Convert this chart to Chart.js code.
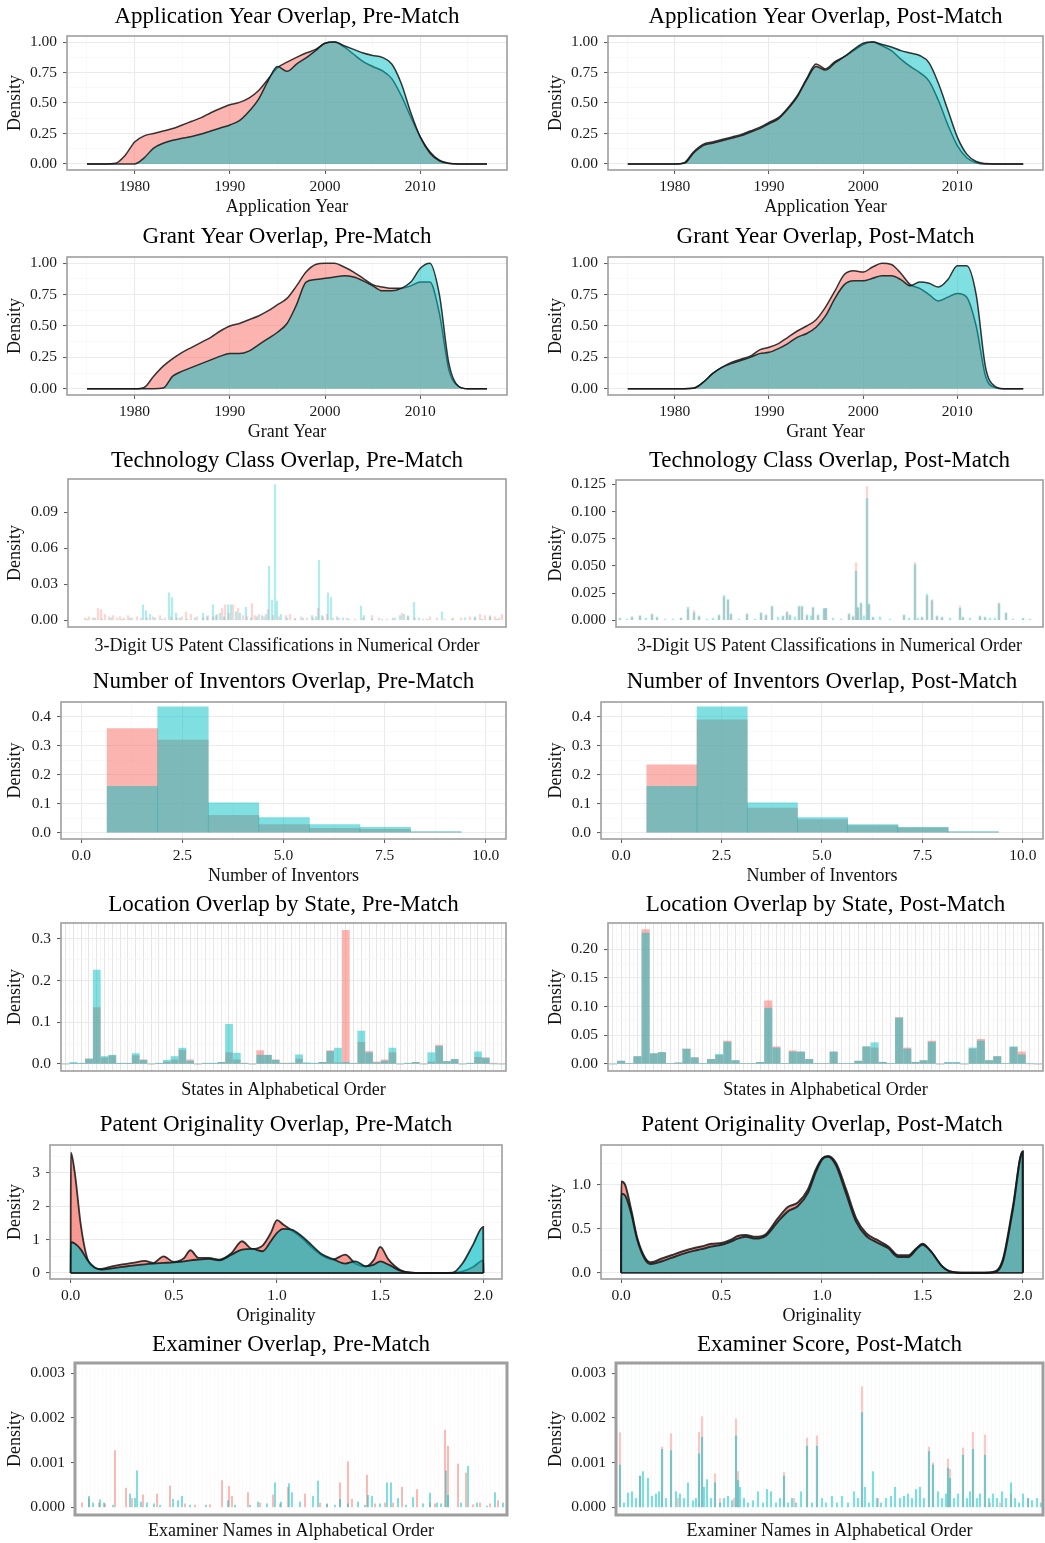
<!DOCTYPE html>
<html>
<head>
<meta charset="utf-8">
<script src="https://cdn.jsdelivr.net/npm/chart.js@4.4.0/dist/chart.umd.min.js"></script>
<style>
  html, body { margin: 0; padding: 0; background: #fff; }
  body { width: 1045px; height: 1543px; position: relative; overflow: hidden; }
  .cell { position: absolute; }
</style>
</head>
<body>
<script>
// ---- year densities (scaled so the peak is 1) ----
var years = [1975, 1977, 1978, 1979, 1980, 1981, 1982, 1983, 1984, 1985, 1986, 1987, 1988, 1989, 1990,
  1991, 1992, 1993, 1994, 1995, 1996, 1997, 1998, 1999, 2000, 2001, 2002, 2003, 2004, 2005,
  2006, 2007, 2008, 2009, 2010, 2011, 2012, 2013, 2014, 2015, 2017];

var appPreRed = [0, 0, 0.005, 0.07, 0.18, 0.23, 0.25, 0.27, 0.29, 0.32, 0.35, 0.38, 0.42, 0.455, 0.485,
  0.505, 0.54, 0.6, 0.695, 0.79, 0.835, 0.875, 0.91, 0.94, 0.99, 1.0, 0.96, 0.9, 0.84, 0.8,
  0.765, 0.7, 0.56, 0.385, 0.22, 0.1, 0.03, 0.006, 0, 0, 0];
var appPreCyan = [0, 0, 0, 0, 0, 0.05, 0.13, 0.17, 0.195, 0.21, 0.225, 0.245, 0.27, 0.295, 0.32,
  0.355, 0.43, 0.53, 0.68, 0.8, 0.76, 0.82, 0.87, 0.93, 0.99, 1.0, 0.97, 0.94, 0.91, 0.89,
  0.875, 0.82, 0.66, 0.42, 0.22, 0.09, 0.025, 0.004, 0, 0, 0];
var appPostRed = [0, 0, 0, 0, 0, 0.01, 0.1, 0.16, 0.18, 0.2, 0.22, 0.24, 0.27, 0.3, 0.34,
  0.38, 0.46, 0.56, 0.7, 0.82, 0.78, 0.84, 0.88, 0.93, 0.98, 1.0, 0.97, 0.93, 0.86, 0.8,
  0.75, 0.68, 0.52, 0.32, 0.15, 0.05, 0.01, 0, 0, 0, 0];
var appPostCyan = [0, 0, 0, 0, 0, 0.005, 0.09, 0.15, 0.17, 0.19, 0.21, 0.23, 0.26, 0.29, 0.33,
  0.37, 0.45, 0.55, 0.69, 0.8, 0.77, 0.83, 0.88, 0.94, 0.99, 1.0, 0.98, 0.96, 0.93, 0.91,
  0.89, 0.83, 0.66, 0.44, 0.22, 0.08, 0.02, 0.003, 0, 0, 0];
var grantPreRed = [0, 0, 0, 0, 0, 0.01, 0.1, 0.18, 0.24, 0.29, 0.33, 0.37, 0.41, 0.46, 0.5,
  0.52, 0.55, 0.58, 0.62, 0.67, 0.72, 0.82, 0.93, 0.99, 1.0, 1.0, 0.97, 0.93, 0.88, 0.83,
  0.81, 0.8, 0.8, 0.82, 0.85, 0.85, 0.6, 0.15, 0.02, 0, 0];
var grantPreCyan = [0, 0, 0, 0, 0, 0, 0, 0.005, 0.1, 0.14, 0.17, 0.2, 0.23, 0.26, 0.28,
  0.28, 0.3, 0.35, 0.4, 0.45, 0.52, 0.67, 0.85, 0.87, 0.88, 0.89, 0.9, 0.89, 0.86, 0.82,
  0.78, 0.78, 0.8, 0.85, 0.96, 1.0, 0.75, 0.2, 0.02, 0, 0];
var grantPostRed = [0, 0, 0, 0, 0, 0, 0.005, 0.05, 0.12, 0.17, 0.21, 0.235, 0.26, 0.31, 0.33,
  0.36, 0.41, 0.46, 0.5, 0.55, 0.65, 0.78, 0.91, 0.94, 0.93, 0.97, 1.0, 0.99, 0.92, 0.83,
  0.8, 0.75, 0.7, 0.73, 0.76, 0.73, 0.5, 0.1, 0.01, 0, 0];
var grantPostCyan = [0, 0, 0, 0, 0, 0, 0.003, 0.05, 0.12, 0.17, 0.2, 0.225, 0.25, 0.28, 0.29,
  0.32, 0.36, 0.41, 0.44, 0.49, 0.58, 0.72, 0.83, 0.86, 0.86, 0.88, 0.9, 0.9, 0.87, 0.82,
  0.85, 0.84, 0.81, 0.87, 0.98, 0.98, 0.75, 0.17, 0.02, 0, 0];

// ---- technology classes: [class position, density] ----
var techPreRed = [[18, 0.002], [22, 0.003], [26, 0.002], [31, 0.01], [34, 0.009], [38, 0.005], [42, 0.003],
  [46, 0.004], [50, 0.002], [53, 0.003], [57, 0.002], [61, 0.004], [65, 0.002], [70, 0.003], [74, 0.002],
  [80, 0.002], [86, 0.003], [93, 0.004], [98, 0.002], [104, 0.003], [110, 0.002], [115, 0.003], [119, 0.007],
  [124, 0.005], [130, 0.003], [136, 0.002], [141, 0.004], [146, 0.003], [150, 0.005], [155, 0.01], [158, 0.013],
  [162, 0.006], [166, 0.013], [171, 0.01], [176, 0.004], [180, 0.003], [185, 0.014], [188, 0.004], [192, 0.005],
  [197, 0.003], [201, 0.009], [206, 0.004], [212, 0.003], [219, 0.004], [223, 0.005], [228, 0.002], [234, 0.003],
  [240, 0.002], [246, 0.002], [251, 0.01], [256, 0.003], [260, 0.005], [266, 0.002], [272, 0.002], [280, 0.002],
  [288, 0.001], [296, 0.002], [305, 0.004], [312, 0.002], [320, 0.001], [328, 0.002], [335, 0.006], [341, 0.004],
  [348, 0.002], [356, 0.001], [363, 0.003], [370, 0.002], [378, 0.001], [386, 0.002], [394, 0.002], [403, 0.003],
  [408, 0.002], [413, 0.005], [418, 0.004], [423, 0.004], [428, 0.003], [432, 0.002], [435, 0.005]];
var techPreCyan = [[20, 0.001], [28, 0.002], [35, 0.001], [44, 0.002], [55, 0.001], [63, 0.002], [76, 0.013],
  [79, 0.008], [83, 0.005], [88, 0.002], [95, 0.001], [102, 0.023], [105, 0.019], [109, 0.006], [113, 0.002],
  [120, 0.001], [128, 0.002], [136, 0.006], [140, 0.003], [146, 0.013], [149, 0.004], [153, 0.006], [157, 0.003],
  [161, 0.013], [164, 0.013], [169, 0.007], [173, 0.006], [179, 0.011], [184, 0.002], [190, 0.003], [195, 0.004],
  [199, 0.005], [202, 0.045], [205, 0.017], [208, 0.113], [210, 0.016], [214, 0.005], [220, 0.002], [228, 0.001],
  [236, 0.002], [245, 0.004], [249, 0.003], [252, 0.05], [255, 0.004], [261, 0.023], [264, 0.019], [270, 0.003],
  [276, 0.002], [282, 0.001], [294, 0.012], [297, 0.004], [305, 0.001], [315, 0.001], [326, 0.002], [333, 0.004],
  [337, 0.005], [341, 0.003], [347, 0.015], [352, 0.002], [360, 0.001], [375, 0.007], [385, 0.001], [398, 0.002],
  [408, 0.003], [415, 0.001], [423, 0.003], [430, 0.001]];
var techPostRed = [[5, 0.001], [17, 0.003], [25, 0.004], [37, 0.006], [42, 0.002], [66, 0.002], [73, 0.01],
  [79, 0.009], [84, 0.003], [104, 0.004], [109, 0.021], [113, 0.018], [116, 0.005], [132, 0.005], [146, 0.006],
  [151, 0.004], [157, 0.012], [168, 0.003], [172, 0.008], [175, 0.004], [184, 0.012], [187, 0.012], [192, 0.004],
  [198, 0.011], [203, 0.004], [209, 0.01], [211, 0.011], [234, 0.005], [238, 0.004], [241, 0.053], [243, 0.011],
  [246, 0.015], [252, 0.123], [254, 0.014], [258, 0.002], [289, 0.004], [300, 0.053], [307, 0.002], [312, 0.022],
  [317, 0.019], [322, 0.003], [327, 0.002], [345, 0.013], [348, 0.002], [365, 0.003], [370, 0.002], [384, 0.016],
  [391, 0.006], [408, 0.001]];
var techPostCyan = [[5, 0.002], [12, 0.001], [17, 0.003], [25, 0.004], [31, 0.002], [37, 0.005], [42, 0.003],
  [50, 0.001], [58, 0.001], [66, 0.002], [73, 0.012], [79, 0.007], [84, 0.004], [92, 0.001], [98, 0.002],
  [104, 0.005], [109, 0.023], [113, 0.019], [116, 0.006], [124, 0.001], [132, 0.006], [140, 0.001], [146, 0.007],
  [151, 0.005], [157, 0.013], [163, 0.003], [168, 0.004], [172, 0.007], [175, 0.005], [180, 0.003], [184, 0.013],
  [187, 0.013], [192, 0.005], [196, 0.004], [198, 0.012], [203, 0.005], [209, 0.011], [211, 0.011], [218, 0.002],
  [226, 0.001], [234, 0.006], [238, 0.003], [241, 0.045], [243, 0.012], [246, 0.016], [249, 0.004], [252, 0.112],
  [254, 0.015], [258, 0.003], [265, 0.003], [275, 0.001], [289, 0.005], [294, 0.002], [300, 0.051], [303, 0.002],
  [307, 0.003], [312, 0.024], [317, 0.018], [322, 0.004], [327, 0.003], [335, 0.002], [345, 0.011], [348, 0.003],
  [355, 0.002], [365, 0.004], [370, 0.003], [375, 0.002], [380, 0.002], [384, 0.015], [391, 0.007], [398, 0.001],
  [408, 0.002], [415, 0.001]];

// ---- number of inventors histogram ----
var invBins = [1.265, 2.515, 3.765, 5.015, 6.265, 7.515, 8.765];
var invPreRed = [0.36, 0.32, 0.06, 0.028, 0.015, 0.012, 0.002];
var invPreCyan = [0.16, 0.435, 0.103, 0.052, 0.028, 0.019, 0.004];
var invPostRed = [0.235, 0.39, 0.085, 0.045, 0.025, 0.017, 0.002];
var invPostCyan = [0.16, 0.435, 0.103, 0.052, 0.028, 0.019, 0.004];

// ---- state shares, one value per state slot in alphabetical order ----
var locPreRed = [0, 0.001, 0.001, 0.012, 0.135, 0.015, 0.02, 0.001, 0.001, 0.02, 0.01, 0, 0.001, 0.005, 0.01,
  0.033, 0.01, 0, 0.001, 0.001, 0.004, 0.027, 0.01, 0.001, 0, 0.032, 0.021, 0.01, 0.002, 0.002, 0.012,
  0.001, 0.001, 0.004, 0.032, 0.003, 0.32, 0.002, 0.052, 0.03, 0.005, 0.01, 0.027, 0, 0.001, 0.004, 0,
  0.005, 0.045, 0.006, 0.011, 0, 0.001, 0.016, 0.015, 0.002, 0];
var locPreCyan = [0, 0.004, 0.002, 0.012, 0.225, 0.018, 0.021, 0.002, 0.002, 0.025, 0.009, 0, 0.002, 0.009, 0.018,
  0.038, 0.007, 0, 0.002, 0.002, 0.004, 0.095, 0.026, 0.002, 0, 0.021, 0.021, 0.009, 0.001, 0.002, 0.022,
  0.003, 0.002, 0.004, 0.03, 0.038, 0.004, 0.001, 0.079, 0.027, 0.003, 0.007, 0.038, 0, 0.002, 0.004, 0,
  0.027, 0.042, 0.006, 0.011, 0, 0.002, 0.029, 0.014, 0, 0];
var locPostRed = [0, 0.005, 0.001, 0.013, 0.234, 0.018, 0.02, 0.001, 0.002, 0.026, 0.011, 0.001, 0.008, 0.015,
  0.04, 0.006, 0.001, 0.001, 0.003, 0.11, 0.03, 0.001, 0.023, 0.021, 0.008, 0.001, 0.001, 0.021, 0.001,
  0.001, 0.005, 0.03, 0.028, 0.003, 0.001, 0.081, 0.028, 0.003, 0.006, 0.04, 0, 0.002, 0.002, 0, 0.026,
  0.043, 0.006, 0.013, 0.001, 0.029, 0.021, 0, 0];
var locPostCyan = [0, 0.005, 0.001, 0.013, 0.228, 0.018, 0.02, 0.001, 0.002, 0.026, 0.011, 0.001, 0.008, 0.017,
  0.038, 0.006, 0.001, 0.001, 0.003, 0.097, 0.028, 0.001, 0.021, 0.021, 0.008, 0.001, 0.001, 0.021, 0.001,
  0.001, 0.005, 0.03, 0.037, 0.003, 0.001, 0.08, 0.026, 0.003, 0.006, 0.038, 0, 0.003, 0.003, 0, 0.028,
  0.04, 0.006, 0.013, 0.001, 0.03, 0.016, 0.001, 0];

// ---- originality densities ----
var origX = [0, 0.001, 0.02, 0.05, 0.08, 0.12, 0.15, 0.2, 0.25, 0.3, 0.36, 0.4, 0.45, 0.5, 0.55, 0.58, 0.62,
  0.67, 0.72, 0.78, 0.83, 0.88, 0.93, 0.97, 1.0, 1.03, 1.07, 1.12, 1.17, 1.22, 1.27, 1.33, 1.38, 1.43,
  1.47, 1.5, 1.54, 1.6, 1.65, 1.75, 1.85, 1.9, 1.95, 1.999, 2.0];
var origPreRed = [0, 3.6, 3.0, 1.4, 0.45, 0.15, 0.12, 0.2, 0.26, 0.3, 0.36, 0.3, 0.5, 0.33, 0.45, 0.68, 0.45,
  0.45, 0.4, 0.6, 0.95, 0.72, 0.82, 1.2, 1.58, 1.45, 1.28, 1.05, 0.75, 0.52, 0.4, 0.55, 0.28, 0.2,
  0.4, 0.78, 0.4, 0.08, 0.01, 0, 0.005, 0.05, 0.18, 0.38, 0];
var origPreCyan = [0, 0.92, 0.88, 0.7, 0.4, 0.15, 0.1, 0.14, 0.18, 0.22, 0.26, 0.28, 0.3, 0.32, 0.35, 0.38, 0.4,
  0.42, 0.38, 0.55, 0.7, 0.72, 0.65, 0.95, 1.2, 1.32, 1.3, 1.1, 0.82, 0.55, 0.42, 0.28, 0.35, 0.2,
  0.25, 0.35, 0.25, 0.06, 0.01, 0, 0.01, 0.3, 0.85, 1.38, 0];
var origPostRed = [0, 1.04, 1.0, 0.72, 0.4, 0.17, 0.12, 0.16, 0.2, 0.24, 0.28, 0.3, 0.33, 0.34, 0.38, 0.42, 0.43,
  0.41, 0.44, 0.62, 0.75, 0.8, 0.95, 1.18, 1.3, 1.33, 1.25, 0.95, 0.62, 0.45, 0.38, 0.3, 0.2, 0.2,
  0.28, 0.33, 0.25, 0.07, 0.01, 0, 0.01, 0.15, 0.75, 1.38, 0];
var origPostCyan = [0, 0.9, 0.88, 0.68, 0.38, 0.15, 0.1, 0.13, 0.17, 0.21, 0.25, 0.27, 0.3, 0.32, 0.36, 0.39, 0.41,
  0.39, 0.42, 0.58, 0.7, 0.76, 0.91, 1.15, 1.29, 1.32, 1.22, 0.9, 0.58, 0.42, 0.35, 0.28, 0.18, 0.18,
  0.27, 0.32, 0.25, 0.07, 0.01, 0, 0.005, 0.13, 0.72, 1.38, 0];

// ---- examiners: [examiner position, density] ----
var examPreRed = [[7, 0.0001], [14, 0.0002], [24, 0.0001], [30, 0.00008], [40, 0.00127], [51, 0.00043], [57, 0.0002],
  [68, 0.00028], [82, 0.0003], [95, 0.00048], [110, 0.00008], [120, 0.00005], [135, 0.00006], [147, 0.0006],
  [154, 0.00047], [157, 0.00025], [173, 0.00033], [185, 0.0001], [198, 0.00028], [205, 0.00008], [213, 0.00045],
  [230, 0.0003], [245, 0.0001], [252, 0.00006], [265, 0.00055], [273, 0.00102], [277, 0.00018], [292, 0.00072],
  [300, 0.00008], [310, 0.0001], [318, 0.0001], [327, 0.00045], [342, 0.0004], [355, 0.0001], [360, 0.00008],
  [370, 0.00173], [373, 0.00137], [383, 0.00097], [391, 0.00077], [398, 0.00006], [405, 0.0001], [415, 0.00008],
  [423, 0.00015]];
var examPreCyan = [[14, 0.00025], [18, 0.0001], [25, 0.00017], [29, 0.0001], [38, 0.00005], [55, 0.0003], [60, 0.0002],
  [62, 0.00082], [66, 0.00012], [72, 0.0001], [79, 0.00008], [85, 0.00005], [98, 0.00018], [103, 0.00015],
  [107, 0.00025], [115, 0.00005], [131, 0.00005], [153, 0.00015], [160, 0.00005], [175, 0.00005], [183, 0.00012],
  [192, 0.00008], [200, 0.00055], [206, 0.00012], [214, 0.00053], [217, 0.00033], [225, 0.00012], [238, 0.00025],
  [243, 0.00059], [252, 0.00008], [260, 0.00005], [265, 0.00018], [273, 0.00008], [283, 0.00012], [290, 0.00005],
  [293, 0.00027], [297, 0.00025], [305, 0.00008], [312, 0.00055], [316, 0.00055], [323, 0.0002], [331, 0.00005],
  [338, 0.00022], [348, 0.00008], [355, 0.00032], [362, 0.0001], [366, 0.00008], [371, 0.00082], [373, 0.00027],
  [386, 0.0001], [393, 0.00092], [402, 0.0001], [412, 0.00003], [420, 0.00033], [428, 0.0001]];
var examPostRed = [[4, 0.00167], [24, 0.0007], [46, 0.00135], [55, 0.00165], [62, 0.0002], [83, 0.00168], [86, 0.00203],
  [99, 0.00075], [104, 0.0002], [118, 0.0002], [120, 0.00198], [122, 0.0008], [168, 0.00078], [178, 0.0002],
  [191, 0.00155], [201, 0.0016], [246, 0.0027], [262, 0.0002], [313, 0.00135], [317, 0.001], [332, 0.00108],
  [334, 0.00085], [347, 0.00133], [357, 0.00168], [369, 0.00162], [374, 0.0001], [384, 0.0001], [395, 0.0003],
  [412, 0.0002]];
var examPostCyan = [[4, 0.00095], [8, 0.0001], [12, 0.00032], [16, 0.00035], [20, 0.0002], [24, 0.0007], [27, 0.0008],
  [32, 0.00065], [36, 0.00025], [40, 0.0003], [43, 0.00035], [46, 0.0013], [50, 0.0002], [55, 0.00127], [60, 0.00035],
  [64, 0.0003], [68, 0.0002], [72, 0.00055], [77, 0.00015], [80, 0.0002], [83, 0.0012], [86, 0.00157], [88, 0.00045],
  [91, 0.00062], [95, 0.0002], [99, 0.00055], [104, 0.0001], [108, 0.0002], [112, 0.00025], [116, 0.00015],
  [120, 0.0016], [122, 0.0006], [124, 0.00045], [128, 0.0002], [132, 0.0001], [137, 0.00015], [142, 0.00035],
  [147, 0.0001], [151, 0.0004], [155, 0.00035], [160, 0.0001], [164, 0.0002], [168, 0.0007], [172, 0.0001],
  [176, 0.0002], [180, 0.0001], [185, 0.00035], [191, 0.00137], [196, 0.0001], [201, 0.00137], [206, 0.0002],
  [210, 0.0001], [216, 0.00025], [221, 0.0001], [226, 0.00025], [232, 0.0001], [238, 0.00035], [242, 0.0002],
  [246, 0.00212], [249, 0.00045], [253, 0.0001], [257, 0.0008], [261, 0.0002], [265, 0.0001], [270, 0.0002],
  [275, 0.00025], [279, 0.00045], [284, 0.0002], [288, 0.00025], [292, 0.0003], [296, 0.0002], [300, 0.0004],
  [304, 0.00045], [308, 0.0002], [313, 0.00125], [317, 0.00095], [322, 0.00035], [326, 0.0002], [330, 0.0003],
  [332, 0.00088], [334, 0.00065], [338, 0.0002], [342, 0.0003], [347, 0.00117], [351, 0.0002], [354, 0.00035],
  [357, 0.0013], [361, 0.0002], [364, 0.0003], [369, 0.00117], [373, 0.0002], [377, 0.0003], [381, 0.0002],
  [386, 0.00035], [390, 0.0002], [395, 0.00055], [399, 0.0002], [403, 0.0001], [407, 0.0003], [412, 0.0002],
  [416, 0.00015], [421, 0.0002], [425, 0.0001]];

// ---------------------------------------------------------------
var RED = "248,118,109";
var CYAN = "0,191,196";
Chart.defaults.font.family = "'Liberation Serif', 'Times New Roman', serif";
Chart.defaults.color = "#1a1a1a";

// grey frame round the plot panel, like ggplot's theme_bw
Chart.register({
  id: "panelBox",
  afterDraw: function (chart, args, opts) {
    var a = chart.chartArea, ctx = chart.ctx;
    ctx.save();
    ctx.strokeStyle = opts.color || "#9e9e9e";
    ctx.lineWidth = opts.width || 1.6;
    ctx.strokeRect(a.left, a.top, a.right - a.left, a.bottom - a.top);
    ctx.restore();
  }
});

function density(xs, ys, rgb, alpha, order, lw) {
  return {
    type: "line",
    data: xs.map(function (x, i) { return { x: x, y: ys[i] }; }),
    fill: "origin",
    backgroundColor: "rgba(" + rgb + "," + alpha + ")",
    borderColor: "rgba(20,20,20,0.85)",
    borderWidth: lw || 1.5,
    pointRadius: 0,
    cubicInterpolationMode: "monotone",
    order: order
  };
}

function baseline(xs) {
  return {
    type: "line",
    data: [{ x: xs[0], y: 0 }, { x: xs[xs.length - 1], y: 0 }],
    fill: false, borderColor: "rgba(20,20,20,0.85)", borderWidth: 1.8, pointRadius: 0, order: 0
  };
}

function bars(points, rgb, alpha, order, extra) {
  var ds = {
    type: "bar",
    data: points.map(function (p) { return { x: p[0], y: p[1] }; }),
    backgroundColor: "rgba(" + rgb + "," + alpha + ")",
    borderWidth: 0,
    grouped: false,
    order: order
  };
  for (var k in extra) ds[k] = extra[k];
  return ds;
}

function pairs(xs, ys) {
  return xs.map(function (x, i) { return [x, ys[i]]; });
}

function axis(ax, pos, title, titlePad, fit) {
  var majors = ax.major, minors = ax.minor || [];
  var all = majors.concat(minors).sort(function (a, b) { return a - b; });
  var isMajor = function (v) { return majors.indexOf(v) >= 0; };
  var majC = ax.majorColor || "#EBEBEB", minC = ax.minorColor || "#F5F5F5";
  return {
    type: "linear", position: pos, min: ax.min, max: ax.max, offset: false,
    afterBuildTicks: function (s) { s.ticks = all.map(function (v) { return { value: v }; }); },
    afterFit: fit,
    ticks: {
      display: ax.labels !== false, autoSkip: false, maxRotation: 0, minRotation: 0,
      padding: pos === "left" ? 6 : 4, color: "#1a1a1a", font: { size: 15.5 },
      callback: function (v) { return isMajor(v) ? ax.fmt(v) : ""; }
    },
    grid: {
      offset: false, drawTicks: true, tickLength: 4, tickWidth: 1,
      color: function (c) { return c.tick && isMajor(c.tick.value) ? majC : minC; },
      lineWidth: function (c) { return c.tick && isMajor(c.tick.value) ? 1.1 : 0.6; },
      tickColor: function (c) {
        return ax.marks !== false && c.tick && isMajor(c.tick.value) ? "#555" : "rgba(0,0,0,0)";
      }
    },
    border: { display: false },
    title: { display: true, text: title, color: "#111", font: { size: 18 }, padding: titlePad }
  };
}

function panel(p) {
  var cx = p.cell[0], cy = p.cell[1], cw = p.cell[2], ch = p.cell[3], b = p.box;
  var div = document.createElement("div");
  div.className = "cell";
  div.style.left = cx + "px"; div.style.top = cy + "px";
  div.style.width = cw + "px"; div.style.height = ch + "px";
  var canvas = document.createElement("canvas");
  div.appendChild(canvas);
  document.body.appendChild(div);
  var yTitleX = cx === 0 ? 15 : 556.5;

  new Chart(canvas, {
    type: p.type,
    data: { datasets: p.datasets },
    options: {
      responsive: true, maintainAspectRatio: false, animation: false, events: [],
      layout: { padding: { left: 0, top: 0, bottom: 0, right: cx + cw - b.r } },
      plugins: {
        legend: { display: false },
        tooltip: { enabled: false },
        title: {
          display: true, text: p.title, fullSize: false, color: "#000",
          font: { size: 23, weight: "normal" },
          padding: { top: p.titleY - cy - 13.8, bottom: b.t - p.titleY - 13.8 }
        },
        panelBox: { width: p.frame || 1.6 }
      },
      scales: {
        x: axis(p.x, "bottom", p.xTitle, { top: 0, bottom: cy + ch - p.xTitleY - 10.8 },
          function (s) { s.height = cy + ch - b.b; }),
        y: axis(p.y, "left", "Density", { top: yTitleX - cx - 10.8, bottom: 0 },
          function (s) { s.width = b.l - cx; })
      }
    }
  });
}

// shared axis settings
function yearX() {
  return { min: 1972.9, max: 2019.1, major: [1980, 1990, 2000, 2010], minor: [1975, 1985, 1995, 2005, 2015],
    fmt: function (v) { return String(v); } };
}
function unitY() {
  return { min: -0.05, max: 1.05, major: [0, 0.25, 0.5, 0.75, 1], minor: [0.125, 0.375, 0.625, 0.875],
    fmt: function (v) { return v.toFixed(2); } };
}
function invX() {
  return { min: -0.5, max: 10.5, major: [0, 2.5, 5, 7.5, 10], minor: [1.25, 3.75, 6.25, 8.75],
    fmt: function (v) { return v.toFixed(1); } };
}
function invY() {
  return { min: -0.0217, max: 0.4517, major: [0, 0.1, 0.2, 0.3, 0.4], minor: [0.05, 0.15, 0.25, 0.35],
    fmt: function (v) { return v.toFixed(1); } };
}
function slotX(lo, hi, min, max) {
  var maj = [], mnr = [];
  for (var i = lo; i <= hi; i++) { maj.push(i); if (i < hi) mnr.push(i + 0.5); }
  return { min: min, max: max, major: maj, minor: mnr, labels: false, marks: false,
    majorColor: "#E6E6E6", minorColor: "#F2F2F2", fmt: String };
}
function plainX(min, max, step, color) {
  var maj = [];
  if (step) for (var v = min; v <= max; v += step) maj.push(v);
  return { min: min, max: max, major: maj, labels: false, marks: false,
    majorColor: color || "rgba(0,0,0,0)", fmt: String };
}
var NOGRID = "rgba(0,0,0,0)";

// ---- row 1: application year ----
panel({ type: "line", cell: [0, 0, 520, 220], box: { l: 67, t: 36, r: 507, b: 170 }, titleY: 17, xTitleY: 207,
  title: "Application Year Overlap, Pre-Match", xTitle: "Application Year", x: yearX(), y: unitY(),
  datasets: [density(years, appPreRed, RED, 0.55, 2), density(years, appPreCyan, CYAN, 0.5, 1)] });
panel({ type: "line", cell: [520, 0, 525, 220], box: { l: 608, t: 36, r: 1043, b: 170 }, titleY: 17, xTitleY: 207,
  title: "Application Year Overlap, Post-Match", xTitle: "Application Year", x: yearX(), y: unitY(),
  datasets: [density(years, appPostRed, RED, 0.55, 2), density(years, appPostCyan, CYAN, 0.5, 1)] });

// ---- row 2: grant year ----
panel({ type: "line", cell: [0, 220, 520, 225], box: { l: 67, t: 257, r: 507, b: 395 }, titleY: 237, xTitleY: 432,
  title: "Grant Year Overlap, Pre-Match", xTitle: "Grant Year", x: yearX(), y: unitY(),
  datasets: [density(years, grantPreRed, RED, 0.55, 2), density(years, grantPreCyan, CYAN, 0.5, 1)] });
panel({ type: "line", cell: [520, 220, 525, 225], box: { l: 608, t: 257, r: 1043, b: 395 }, titleY: 237, xTitleY: 432,
  title: "Grant Year Overlap, Post-Match", xTitle: "Grant Year", x: yearX(), y: unitY(),
  datasets: [density(years, grantPostRed, RED, 0.55, 2), density(years, grantPostCyan, CYAN, 0.5, 1)] });

// ---- row 3: technology class ----
panel({ type: "bar", cell: [0, 445, 520, 222], box: { l: 68, t: 479, r: 506, b: 627 }, titleY: 461, xTitleY: 646.5,
  title: "Technology Class Overlap, Pre-Match", xTitle: "3-Digit US Patent Classifications in Numerical Order",
  x: plainX(1, 439),
  y: { min: -0.0055, max: 0.1178, major: [0, 0.03, 0.06, 0.09], majorColor: NOGRID,
    fmt: function (v) { return v.toFixed(2); } },
  datasets: [bars(techPreRed, RED, 0.3, 2, { barThickness: 1.6 }), bars(techPreCyan, CYAN, 0.3, 1, { barThickness: 1.6 })] });
panel({ type: "bar", cell: [520, 445, 525, 222], box: { l: 616, t: 480, r: 1043, b: 627 }, titleY: 461, xTitleY: 646.5,
  title: "Technology Class Overlap, Post-Match", xTitle: "3-Digit US Patent Classifications in Numerical Order",
  x: plainX(1, 428),
  y: { min: -0.0062, max: 0.129, major: [0, 0.025, 0.05, 0.075, 0.1, 0.125], majorColor: NOGRID,
    fmt: function (v) { return v.toFixed(3); } },
  datasets: [bars(techPostRed, RED, 0.3, 2, { barThickness: 1.8 }), bars(techPostCyan, CYAN, 0.35, 1, { barThickness: 1.8 })] });

// ---- row 4: number of inventors ----
var invBar = { barPercentage: 1, categoryPercentage: 1 };
panel({ type: "bar", cell: [0, 667, 520, 223], box: { l: 61, t: 702, r: 506, b: 839 }, titleY: 681.5, xTitleY: 876,
  title: "Number of Inventors Overlap, Pre-Match", xTitle: "Number of Inventors", x: invX(), y: invY(),
  datasets: [bars(pairs(invBins, invPreRed), RED, 0.55, 2, invBar), bars(pairs(invBins, invPreCyan), CYAN, 0.5, 1, invBar)] });
panel({ type: "bar", cell: [520, 667, 525, 223], box: { l: 601, t: 702, r: 1043, b: 839 }, titleY: 681.5, xTitleY: 876,
  title: "Number of Inventors Overlap, Post-Match", xTitle: "Number of Inventors", x: invX(), y: invY(),
  datasets: [bars(pairs(invBins, invPostRed), RED, 0.55, 2, invBar), bars(pairs(invBins, invPostCyan), CYAN, 0.5, 1, invBar)] });

// ---- row 5: location by state ----
var locPreIdx = locPreRed.map(function (v, i) { return i - 1; });
var locPostIdx = locPostRed.map(function (v, i) { return i - 1; });
panel({ type: "bar", cell: [0, 890, 520, 215], box: { l: 61, t: 923, r: 506, b: 1071 }, titleY: 905, xTitleY: 1090,
  title: "Location Overlap by State, Pre-Match", xTitle: "States in Alphabetical Order",
  x: slotX(-1, 55, -1.6, 55.6),
  y: { min: -0.0168, max: 0.3377, major: [0, 0.1, 0.2, 0.3], minor: [0.05, 0.15, 0.25],
    fmt: function (v) { return v.toFixed(1); } },
  datasets: [bars(pairs(locPreIdx, locPreRed), RED, 0.55, 2, { barThickness: 7 }),
    bars(pairs(locPreIdx, locPreCyan), CYAN, 0.5, 1, { barThickness: 7 })] });
panel({ type: "bar", cell: [520, 890, 525, 215], box: { l: 608, t: 923, r: 1043, b: 1071 }, titleY: 905, xTitleY: 1090,
  title: "Location Overlap by State, Post-Match", xTitle: "States in Alphabetical Order",
  x: slotX(-1, 51, -1.6, 51.6),
  y: { min: -0.0122, max: 0.2454, major: [0, 0.05, 0.1, 0.15, 0.2], minor: [0.025, 0.075, 0.125, 0.175, 0.225],
    fmt: function (v) { return v.toFixed(2); } },
  datasets: [bars(pairs(locPostIdx, locPostRed), RED, 0.55, 2, { barThickness: 7.4 }),
    bars(pairs(locPostIdx, locPostCyan), CYAN, 0.5, 1, { barThickness: 7.4 })] });

// ---- row 6: originality ----
function origXAxis(max) {
  return { min: -0.1, max: max, major: [0, 0.5, 1, 1.5, 2], minor: [0.25, 0.75, 1.25, 1.75],
    fmt: function (v) { return v.toFixed(1); } };
}
panel({ type: "line", cell: [0, 1105, 520, 225], box: { l: 50, t: 1145, r: 502, b: 1279 }, titleY: 1125, xTitleY: 1316.5,
  title: "Patent Originality Overlap, Pre-Match", xTitle: "Originality", x: origXAxis(2.09),
  y: { min: -0.18, max: 3.83, major: [0, 1, 2, 3], minor: [0.5, 1.5, 2.5, 3.5], fmt: function (v) { return v.toFixed(0); } },
  datasets: [density(origX, origPreRed, RED, 0.75, 2, 1.8), density(origX, origPreCyan, CYAN, 0.65, 1, 1.8), baseline(origX)] });
panel({ type: "line", cell: [520, 1105, 525, 225], box: { l: 601, t: 1145, r: 1043, b: 1279 }, titleY: 1125, xTitleY: 1316.5,
  title: "Patent Originality Overlap, Post-Match", xTitle: "Originality", x: origXAxis(2.1),
  y: { min: -0.07, max: 1.455, major: [0, 0.5, 1], minor: [0.25, 0.75, 1.25], fmt: function (v) { return v.toFixed(1); } },
  datasets: [density(origX, origPostRed, RED, 0.75, 2, 2), density(origX, origPostCyan, CYAN, 0.6, 1, 2), baseline(origX)] });

// ---- row 7: examiners ----
function examY() {
  return { min: -0.00017, max: 0.00323, major: [0, 0.001, 0.002, 0.003], majorColor: NOGRID,
    fmt: function (v) { return v.toFixed(3); } };
}
panel({ type: "bar", cell: [0, 1330, 520, 213], box: { l: 75, t: 1363, r: 507, b: 1515 }, titleY: 1345, xTitleY: 1531.5,
  title: "Examiner Overlap, Pre-Match", xTitle: "Examiner Names in Alphabetical Order", frame: 3,
  x: plainX(0, 432, 4, "rgba(240,220,220,0.18)"), y: examY(),
  datasets: [bars(examPreRed, RED, 0.5, 2, { barThickness: 1.4 }), bars(examPreCyan, CYAN, 0.5, 1, { barThickness: 1.4 })] });
panel({ type: "bar", cell: [520, 1330, 525, 213], box: { l: 616, t: 1363, r: 1043, b: 1515 }, titleY: 1345, xTitleY: 1531.5,
  title: "Examiner Score, Post-Match", xTitle: "Examiner Names in Alphabetical Order", frame: 3,
  x: plainX(0, 427, 4, "rgba(215,225,225,0.18)"), y: examY(),
  datasets: [bars(examPostRed, RED, 0.4, 2, { barThickness: 1.5 }), bars(examPostCyan, CYAN, 0.5, 1, { barThickness: 1.5 })] });
</script>
</body>
</html>
